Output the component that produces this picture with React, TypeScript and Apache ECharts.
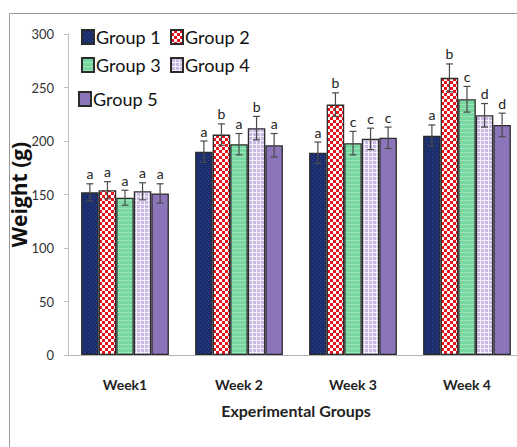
import React, { useEffect, useRef } from "react";
import * as echarts from "echarts";

const categories = ["Week1", "Week 2", "Week 3", "Week 4"];
const groupNames = ["Group 1", "Group 2", "Group 3", "Group 4", "Group 5"];
const group1 = [152, 190, 189, 205];
const group2 = [154, 206, 234, 259];
const group3 = [147, 197, 198, 239];
const group4 = [153, 212, 202, 224];
const group5 = [151, 196, 203, 215];
const err1 = [8, 10, 10, 10];
const err2 = [8, 10, 11, 13];
const err3 = [7, 10, 11, 12];
const err4 = [8, 11, 10, 11];
const err5 = [9, 11, 10, 11];
const letters1 = ["a", "a", "a", "a"];
const letters2 = ["a", "b", "b", "b"];
const letters3 = ["a", "a", "c", "c"];
const letters4 = ["a", "b", "c", "d"];
const letters5 = ["a", "a", "c", "d"];
const yTicks = { min: 0, max: 300, interval: 50 };

const values = [group1, group2, group3, group4, group5];
const errors = [err1, err2, err3, err4, err5];
const letters = [letters1, letters2, letters3, letters4, letters5];

function makePattern(kind: number): any {
  const c = document.createElement("canvas");
  const ctx = c.getContext("2d")!;
  if (kind === 0) {
    c.width = 4; c.height = 4;
    ctx.fillStyle = "#1a2c6b"; ctx.fillRect(0, 0, 4, 4);
    ctx.fillStyle = "#34498c"; ctx.fillRect(0, 0, 1, 1); ctx.fillRect(2, 2, 1, 1);
  } else if (kind === 1) {
    c.width = 6; c.height = 6;
    ctx.fillStyle = "#e3141b"; ctx.fillRect(0, 0, 6, 6);
    ctx.fillStyle = "#ffffff"; ctx.fillRect(0, 0, 3, 3); ctx.fillRect(3, 3, 3, 3);
  } else if (kind === 2) {
    c.width = 4; c.height = 4;
    ctx.fillStyle = "#78d6a0"; ctx.fillRect(0, 0, 4, 4);
    ctx.fillStyle = "#9be3b9"; ctx.fillRect(0, 0, 4, 1);
  } else if (kind === 3) {
    c.width = 4; c.height = 4;
    ctx.fillStyle = "#c9b9e3"; ctx.fillRect(0, 0, 4, 4);
    ctx.fillStyle = "#f4f0fa"; ctx.fillRect(0, 0, 4, 1); ctx.fillRect(0, 0, 1, 4);
  } else {
    c.width = 4; c.height = 4;
    ctx.fillStyle = "#8a73b8"; ctx.fillRect(0, 0, 4, 4);
    ctx.fillStyle = "#9581c0"; ctx.fillRect(0, 0, 1, 1); ctx.fillRect(2, 2, 1, 1);
  }
  return { image: c, repeat: "repeat" };
}

const GAP = 0.23;

export default function App() {
  const ref = useRef<HTMLDivElement>(null);
  useEffect(() => {
    const chart = echarts.init(ref.current!, undefined, { renderer: "svg" });
    const barSeries = groupNames.map((name, gi) => ({
      name,
      type: "bar",
      data: values[gi],
      barGap: "0%",
      barCategoryGap: "23%",
      itemStyle: { color: makePattern(gi), borderColor: "#2b2b2b", borderWidth: 1.3 },
      emphasis: { disabled: true },
    }));
    const errSeries = groupNames.map((name, gi) => ({
      name: "err" + gi,
      type: "custom",
      data: values[gi].map((v, i) => [i, v, errors[gi][i]]),
      encode: { x: 0, y: 1 },
      z: 5,
      renderItem: (params: any, api: any) => {
        const cat = api.value(0);
        const v = api.value(1);
        const e = api.value(2);
        const band = api.size([1, 0])[0];
        const bw = (band * (1 - GAP)) / 5;
        const cx = api.coord([cat, v])[0] + (gi - 2) * bw;
        const top = api.coord([cat, v + e])[1];
        const bot = api.coord([cat, v - e])[1];
        const st = { stroke: "#4a4a4a", lineWidth: 1.2 };
        return {
          type: "group",
          children: [
            { type: "line", shape: { x1: cx, y1: top, x2: cx, y2: bot }, style: st },
            { type: "line", shape: { x1: cx - 3.5, y1: top, x2: cx + 3.5, y2: top }, style: st },
            { type: "line", shape: { x1: cx - 3.5, y1: bot, x2: cx + 3.5, y2: bot }, style: st },
            {
              type: "text",
              x: cx,
              y: top - 3,
              style: {
                text: letters[gi][params.dataIndex],
                fill: "#222",
                font: "14px Lato",
                align: "center",
                verticalAlign: "bottom",
              },
            },
          ],
        };
      },
    }));
    const legendPos = [
      { left: 81, top: 28 },
      { left: 170, top: 28 },
      { left: 81, top: 56 },
      { left: 170, top: 56 },
      { left: 78, top: 90 },
    ];
    chart.setOption({
      animation: false,
      legend: groupNames.map((n, i) => ({
        data: [{ name: n, icon: "rect" }],
        left: legendPos[i].left,
        top: legendPos[i].top,
        padding: 0,
        itemWidth: 12,
        itemHeight: 14,
        selectedMode: false,
        textStyle: { fontSize: 18, fontFamily: "Lato", color: "#111", padding: [0, 0, 0, -3] },
      })),
      graphic: [
        {
          type: "rect",
          shape: { x: 9.5, y: 13.5, width: 560, height: 480 },
          style: { fill: "none", stroke: "#9a9a9a", lineWidth: 1 },
          silent: true,
        },
      ],
      grid: {
        left: 68,
        top: 34,
        width: 456,
        height: 321,
        containLabel: false,
        outerBoundsMode: "none",
      },
      xAxis: {
        type: "category",
        data: categories,
        name: "Experimental Groups",
        nameLocation: "middle",
        nameGap: 47,
        nameMoveOverlap: false,
        nameTextStyle: { fontFamily: "Lato", fontWeight: "bold", fontSize: 16, color: "#222" },
        axisLine: { lineStyle: { color: "#b5b5b5" } },
        axisTick: { length: 7, lineStyle: { color: "#b5b5b5" } },
        axisLabel: { margin: 22, fontFamily: "Lato", fontWeight: "bold", fontSize: 14, color: "#222" },
      },
      yAxis: {
        type: "value",
        min: yTicks.min,
        max: yTicks.max,
        interval: yTicks.interval,
        name: "Weight (g)",
        nameLocation: "middle",
        nameGap: 39,
        nameMoveOverlap: false,
        nameTextStyle: { fontFamily: "Open Sans", fontWeight: "bold", fontSize: 21, color: "#111" },
        splitLine: { show: false },
        axisLine: { show: true, lineStyle: { color: "#c0c0c0" } },
        axisTick: { show: true, length: 4, lineStyle: { color: "#c0c0c0" } },
        axisLabel: { margin: 14, fontFamily: "Lato", fontSize: 13, color: "#333" },
      },
      series: [...barSeries, ...errSeries],
    });
    return () => chart.dispose();
  }, []);
  return (
    <div
      ref={ref}
      style={{ position: "fixed", left: 0, top: 0, width: 517, height: 447, background: "#fff" }}
    />
  );
}
